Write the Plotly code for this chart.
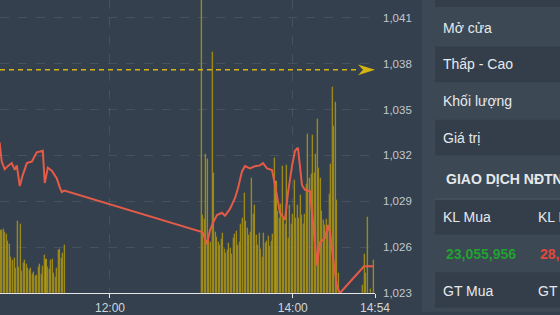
import plotly.graph_objects as go
import pandas as pd

DAY = "2024-05-20"

# ---------------- data ----------------
PRICE_TIMES = [
    "10:45:00", "10:47:36", "10:48:54", "10:50:54", "10:52:54", "10:55:30", "10:57:30",
    "10:58:48", "11:00:48", "11:02:42", "11:05:24", "11:08:42", "11:11:54", "11:15:12",
    "11:15:54", "11:17:12", "11:19:12", "11:21:48", "11:25:06", "11:27:06", "11:28:24",
    "11:30:00",
    "13:00:00", "13:01:04", "13:03:41", "13:05:40", "13:07:38", "13:10:16", "13:13:32",
    "13:15:31", "13:18:47", "13:22:04", "13:24:02", "13:26:40", "13:28:38", "13:31:55",
    "13:35:13", "13:38:29", "13:40:28", "13:43:05", "13:46:22", "13:48:20", "13:49:39",
    "13:51:37", "13:54:54", "13:56:52", "13:59:30", "14:01:28", "14:03:26", "14:04:45",
    "14:06:04", "14:08:02", "14:11:19", "14:13:17", "14:15:55", "14:17:53", "14:21:10",
    "14:23:08", "14:24:27", "14:26:25", "14:29:03", "14:31:01", "14:46:47", "14:53:20",
]
PRICE_VALUES = [
    1032.9, 1032.8, 1031.6, 1031.1, 1031.3, 1031.5, 1031.05,
    1031.35, 1030.0, 1030.7, 1031.5, 1031.6, 1032.2, 1032.3,
    1032.3, 1030.2, 1031.2, 1031.0, 1030.5, 1029.9, 1029.6,
    1029.7,
    1027.0, 1026.9, 1026.2, 1027.1, 1027.6, 1028.1, 1028.25,
    1028.05, 1028.5, 1029.2, 1029.85, 1030.95, 1031.3, 1031.15,
    1031.3, 1031.35, 1031.5, 1031.15, 1031.05, 1030.1, 1029.35,
    1028.25, 1027.8, 1029.55, 1031.3, 1032.3, 1032.5, 1031.15,
    1030.05, 1029.75, 1029.65, 1027.6, 1024.8, 1026.3, 1026.6,
    1027.45, 1026.95, 1025.35, 1023.4, 1023.0, 1024.75, 1024.75,
]
REF_PRICE = 1037.6

VOL_AM_START = "10:48"
VOL_AM = [64, 64, 65, 62, 60, 53, 50, 36, 33, 35, 25, 73, 26, 70, 22,
          30, 33, 29, 25, 23, 25, 19, 21, 17, 18, 26, 29, 19, 27, 38,
          34, 26, 24, 33, 34, 20, 16, 25, 43, 44, 35, 40, 48]
VOL_PM_START = "13:00"
VOL_PM = [330, 79, 75, 140, 135, 55, 52, 243, 121, 62,
          57, 52, 48, 55, 61, 44, 40, 43, 51, 45,
          39, 56, 60, 63, 48, 52, 70, 76, 101, 73,
          66, 59, 62, 116, 80, 89, 59, 49, 61, 44,
          36, 61, 51, 53, 58, 47, 53, 60, 136, 113,
          83, 76, 90, 128, 76, 70, 129, 56, 89, 70,
          80, 114, 76, 89, 76, 99, 79, 70, 80, 110,
          161, 116, 120, 160, 121, 140, 176, 126, 116, 83,
          74, 69, 75, 63, 100, 130, 208, 169, 193, 94,
          20]
VOL_ATC_TIMES = ["14:46", "14:47", "14:48", "14:49", "14:51", "14:53"]
VOL_ATC = [8, 39, 20, 77, 4, 33]
VOL_AXIS_MAX = 296

X_TICKS = ["12:00", "14:00", "14:54"]
Y_TICKS = [1023, 1026, 1029, 1032, 1035, 1038, 1041]
X_START = "10:47:48"
X_END = "14:54:00"
Y_MIN, Y_MAX = 1023, 1042.17

INFO_LABELS = ["Mở cửa", "Thấp - Cao", "Khối lượng", "Giá trị"]
FOREIGN_TITLE = "GIAO DỊCH NĐTNN"
FOREIGN_HEAD = ["KL Mua", "KL Bán"]
FOREIGN_VALUES = ["23,055,956", "28,134,520"]
FOREIGN_HEAD2 = ["GT Mua", "GT Bán"]

# ---------------- styling ----------------
W, H = 560, 315
PLOT_W, PLOT_H = 375, 296
BG = "#34404d"
PANEL_BG = "#3c4854"
ROW_DARK = "#333e4a"
GRID = "rgba(255,255,255,0.09)"
LINE_RED = "#e55b48"
BAR_GOLD = "#b89d12"
BAR_EDGE = "#8c7f1e"
REF_GOLD = "#d6b40f"
TEXT = "#e6e9ec"
FONT = "Liberation Sans, Arial, sans-serif"


def ts(t):
    return pd.Timestamp(f"{DAY} {t}")


price_x = [ts(t) for t in PRICE_TIMES]
vol_x = (list(pd.date_range(ts(VOL_AM_START), periods=len(VOL_AM), freq="1min"))
         + list(pd.date_range(ts(VOL_PM_START), periods=len(VOL_PM), freq="1min"))
         + [ts(t) for t in VOL_ATC_TIMES])
vol_y = VOL_AM + VOL_PM + VOL_ATC

fig = go.Figure()
fig.add_trace(go.Bar(x=vol_x, y=vol_y, yaxis="y", width=40000,
                     marker=dict(color=BAR_GOLD, line=dict(width=0.3, color=BAR_EDGE)),
                     hoverinfo="skip"))
fig.add_trace(go.Scatter(x=price_x, y=PRICE_VALUES, yaxis="y2", mode="lines",
                         line=dict(color=LINE_RED, width=2), hoverinfo="skip"))


def px_x(p):
    return p / PLOT_W


def px_y(p):
    return 1 - p / PLOT_H


shapes = []
# right panel background
shapes.append(dict(type="rect", xref="paper", yref="paper", x0=px_x(422), x1=px_x(W),
                   y0=px_y(H), y1=px_y(0), fillcolor=PANEL_BG, line=dict(width=0), layer="below"))
for (a, b) in [(0, 7), (47, 83), (121, 157), (202, 237), (275, 311)]:
    shapes.append(dict(type="rect", xref="paper", yref="paper", x0=px_x(435), x1=px_x(W),
                       y0=px_y(b), y1=px_y(a), fillcolor=ROW_DARK, line=dict(width=0), layer="below"))
shapes.append(dict(type="line", xref="paper", yref="paper", x0=px_x(435), x1=px_x(W),
                   y0=px_y(201), y1=px_y(201), line=dict(color="#4b5764", width=1)))
# reference price dashed line + arrow head
shapes.append(dict(type="line", xref="paper", yref="y2", x0=0, x1=px_x(359),
                   y0=REF_PRICE, y1=REF_PRICE, line=dict(color=REF_GOLD, width=1.5, dash="5px,4px")))
ah = 5.5 * (Y_MAX - Y_MIN) / PLOT_H
shapes.append(dict(type="path", xref="paper", yref="y2",
                   path=(f"M {px_x(358)},{REF_PRICE + ah} L {px_x(375)},{REF_PRICE} "
                         f"L {px_x(358)},{REF_PRICE - ah} L {px_x(363)},{REF_PRICE} Z"),
                   fillcolor=REF_GOLD, line=dict(width=0)))

ann = []


def label(text, x, y, color=TEXT, size=14, bold=False):
    ann.append(dict(text=f"<b>{text}</b>" if bold else text, xref="paper", yref="paper",
                    x=px_x(x), y=px_y(y), xanchor="left", yanchor="middle", showarrow=False,
                    font=dict(family=FONT, size=size, color=color)))


for lab, yy in zip(INFO_LABELS, [28, 65, 102, 139]):
    label(lab, 441, yy)
label(FOREIGN_TITLE, 444, 181, bold=True)
label(FOREIGN_HEAD[0], 441, 219)
label(FOREIGN_HEAD[1], 536, 219)
label(FOREIGN_VALUES[0], 444, 257, color="#22a032", bold=True)
label(FOREIGN_VALUES[1], 538, 257, color="#e0483c", bold=True)
label(FOREIGN_HEAD2[0], 441, 294)
label(FOREIGN_HEAD2[1], 536, 294)

fig.update_layout(
    width=W, height=H,
    margin=dict(l=0, r=W - PLOT_W, t=0, b=H - PLOT_H),
    paper_bgcolor=BG, plot_bgcolor=BG,
    showlegend=False, bargap=0,
    shapes=shapes, annotations=ann,
    xaxis=dict(type="date", range=[ts(X_START), ts(X_END)],
               tickvals=[ts(t) for t in X_TICKS], ticktext=X_TICKS,
               showgrid=True, gridcolor=GRID, griddash="dash", gridwidth=1,
               showline=True, linecolor="#e6e6e6", linewidth=1,
               ticks="outside", ticklen=4, tickcolor="#e6e6e6", tickwidth=1,
               tickfont=dict(family=FONT, size=12, color="#d2d6da"),
               zeroline=False, fixedrange=True),
    yaxis=dict(range=[0, VOL_AXIS_MAX], visible=False, showgrid=False, fixedrange=True),
    yaxis2=dict(overlaying="y", side="right", range=[Y_MIN, Y_MAX],
                tickvals=Y_TICKS, tickformat=",d",
                showgrid=True, gridcolor=GRID, griddash="dash", gridwidth=1,
                ticks="", ticklabelstandoff=7, showline=False, zeroline=False,
                tickfont=dict(family=FONT, size=11.5, color="#c3c8cd"), fixedrange=True),
)

fig.write_html("out.html")
